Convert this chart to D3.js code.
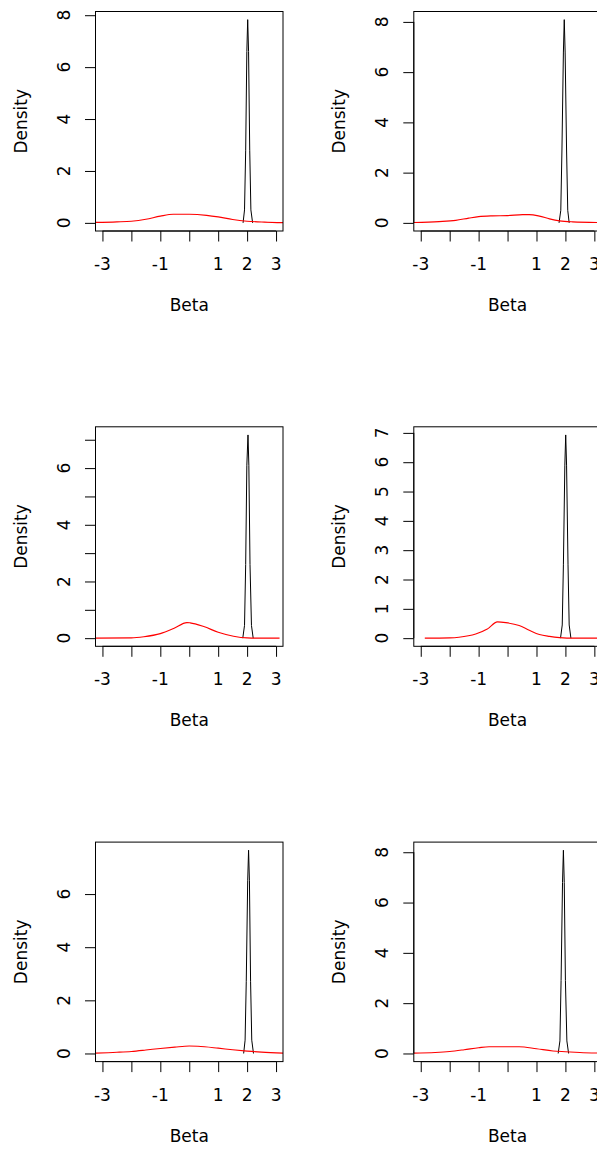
<!DOCTYPE html>
<html>
<head>
<meta charset="utf-8">
<script src="https://cdn.jsdelivr.net/npm/d3@7"></script>
<style>
  body { margin: 0; background: #fff; }
  svg { display: block; }
  text { font-family: "DejaVu Sans", sans-serif; fill: #000; }
</style>
</head>
<body>
<svg id="chart" width="597" height="1149"></svg>
<script>
// x axis, shared by every panel
const xLimits = [-3, 3];
const xTicks = [-3, -2, -1, 0, 1, 2, 3];
const xTickLabels = [-3, -1, 1, 2, 3];

// wide (red) density curves, [beta, density]
const wide1 = [[-3.24,0.02],[-2.5,0.04],[-2,0.065],[-1.5,0.14],[-1,0.26],[-0.55,0.33],[0,0.33],[0.6,0.29],[1,0.23],[1.5,0.13],[2,0.065],[2.6,0.03],[3.24,0.01]];
const wide2 = [[-3.24,0.013],[-2.37,0.05],[-1.79,0.1],[-1.34,0.19],[-1,0.25],[-0.52,0.28],[0,0.29],[0.52,0.33],[0.75,0.33],[1.1,0.27],[1.45,0.16],[1.8,0.08],[2.25,0.04],[3.24,0.012]];
const wide3 = [[-3.24,0],[-2,0.01],[-1.57,0.05],[-1,0.16],[-0.54,0.34],[-0.08,0.55],[0.03,0.54],[0.5,0.41],[1,0.21],[1.53,0.07],[2,0.01],[2.5,0],[3.12,0]];
const wide4 = [[-2.86,0],[-2,0.01],[-1.68,0.03],[-1.1,0.14],[-0.7,0.31],[-0.35,0.556],[-0.06,0.53],[0.4,0.43],[0.75,0.27],[1.1,0.125],[1.45,0.06],[1.8,0.02],[2.3,0],[3.24,0]];
const wide5 = [[-3.24,0.013],[-2.5,0.045],[-2,0.076],[-1.5,0.13],[-1,0.19],[-0.5,0.24],[0,0.28],[0.3,0.27],[1,0.2],[1.5,0.14],[2,0.09],[2.5,0.05],[3.24,0.013]];
const wide6 = [[-3.24,0.013],[-2.5,0.04],[-2,0.08],[-1.5,0.15],[-1,0.23],[-0.64,0.27],[0,0.27],[0.4,0.27],[1,0.19],[1.57,0.1],[2,0.07],[2.5,0.04],[3.24,0.013]];

// narrow (black) density spikes, [beta, density]
const spike1 = [[1.86,0],[1.91,0.5],[1.95,2.8],[1.99,6.6],[2.02,7.83],[2.05,6.6],[2.09,2.8],[2.13,0.5],[2.19,0]];
const spike2 = [[1.78,0],[1.84,0.5],[1.88,2.9],[1.93,6.8],[1.96,8.09],[1.99,6.8],[2.04,2.9],[2.08,0.5],[2.13,0]];
const spike3 = [[1.85,0],[1.91,0.45],[1.95,2.6],[1.99,6.1],[2.03,7.17],[2.06,6.1],[2.1,2.6],[2.15,0.45],[2.21,0]];
const spike4 = [[1.83,0],[1.89,0.45],[1.93,2.5],[1.98,5.9],[2.01,6.93],[2.04,5.9],[2.09,2.5],[2.13,0.45],[2.19,0]];
const spike5 = [[1.88,0],[1.93,0.5],[1.97,2.7],[2.02,6.5],[2.05,7.65],[2.08,6.5],[2.12,2.7],[2.16,0.5],[2.22,0]];
const spike6 = [[1.75,0],[1.81,0.5],[1.85,2.9],[1.9,6.8],[1.93,8.08],[1.96,6.8],[2.0,2.9],[2.05,0.5],[2.11,0]];

// y ticks and which of them carry a label
const yTicks1 = [0, 2, 4, 6, 8], yLabels1 = [0, 2, 4, 6, 8];
const yTicks2 = [0, 2, 4, 6, 8], yLabels2 = [0, 2, 4, 6, 8];
const yTicks3 = [0, 1, 2, 3, 4, 5, 6, 7], yLabels3 = [0, 2, 4, 6];
const yTicks4 = [0, 1, 2, 3, 4, 5, 6, 7], yLabels4 = [0, 1, 2, 3, 4, 5, 6, 7];
const yTicks5 = [0, 2, 4, 6], yLabels5 = [0, 2, 4, 6];
const yTicks6 = [0, 2, 4, 6, 8], yLabels6 = [0, 2, 4, 6, 8];

const xTitle = "Beta";
const yTitle = "Density";

const panels = [
  { wide: wide1, spike: spike1, yTicks: yTicks1, yLabels: yLabels1 },
  { wide: wide2, spike: spike2, yTicks: yTicks2, yLabels: yLabels2 },
  { wide: wide3, spike: spike3, yTicks: yTicks3, yLabels: yLabels3 },
  { wide: wide4, spike: spike4, yTicks: yTicks4, yLabels: yLabels4 },
  { wide: wide5, spike: spike5, yTicks: yTicks5, yLabels: yLabels5 },
  { wide: wide6, spike: spike6, yTicks: yTicks6, yLabels: yLabels6 }
];

const svg = d3.select("#chart");

// panel box geometry
const box = { left: 95.5, top: 11.5, width: 187.5, height: 219.5 };
const colStep = 318.3, rowStep = 415.3;
const tickLen = 10.5;
const fontSize = 17;

// R style 4% padding on each side
const pad = ([a, b]) => { const w = b - a; return [a - 0.04 * w, b + 0.04 * w]; };

panels.forEach((p, i) => {
  const col = i % 2, row = Math.floor(i / 2);
  const g = svg.append("g")
    .attr("transform", `translate(${box.left + col * colStep}, ${box.top + row * rowStep})`);

  const x = d3.scaleLinear().domain(pad(xLimits)).range([0, box.width]);
  const yMax = d3.max(p.spike, d => d[1]);
  const y = d3.scaleLinear().domain(pad([0, yMax])).range([box.height, 0]);

  const clipId = "clip" + i;
  g.append("clipPath").attr("id", clipId)
    .append("rect").attr("width", box.width).attr("height", box.height);

  const line = d3.line().x(d => x(d[0])).y(d => y(d[1]));

  g.append("path")
    .datum(p.spike)
    .attr("clip-path", `url(#${clipId})`)
    .attr("d", line)
    .attr("fill", "none")
    .attr("stroke", "#000")
    .attr("stroke-width", 1);

  g.append("path")
    .datum(p.wide)
    .attr("clip-path", `url(#${clipId})`)
    .attr("d", line.curve(d3.curveMonotoneX))
    .attr("fill", "none")
    .attr("stroke", "#ff0000")
    .attr("stroke-width", 1.1);

  // x axis ticks below the box
  const xAxis = g.append("g").attr("transform", `translate(0, ${box.height})`);
  xAxis.call(d3.axisBottom(x).tickValues(xTicks).tickSize(tickLen).tickSizeOuter(0).tickFormat(""));
  xAxis.select(".domain").attr("d", `M${x(xTicks[0])},0H${x(xTicks[xTicks.length - 1])}`);
  xAxis.selectAll("line").attr("stroke", "#000");
  g.selectAll(".xlab")
    .data(xTickLabels)
    .join("text")
    .attr("class", "xlab")
    .attr("x", d => x(d))
    .attr("y", box.height + 39)
    .attr("text-anchor", "middle")
    .style("font-size", fontSize + "px")
    .text(d => d);

  // y axis ticks left of the box
  const yAxis = g.append("g");
  yAxis.call(d3.axisLeft(y).tickValues(p.yTicks).tickSize(tickLen).tickSizeOuter(0).tickFormat(""));
  yAxis.select(".domain").attr("d", `M0,${y(p.yTicks[0])}V${y(p.yTicks[p.yTicks.length - 1])}`);
  yAxis.selectAll("line").attr("stroke", "#000");
  g.selectAll(".ylab")
    .data(p.yLabels)
    .join("text")
    .attr("class", "ylab")
    .attr("transform", d => `translate(-26, ${y(d)}) rotate(-90)`)
    .attr("text-anchor", "middle")
    .style("font-size", fontSize + "px")
    .text(d => d);

  // frame
  g.append("rect")
    .attr("width", box.width)
    .attr("height", box.height)
    .attr("fill", "none")
    .attr("stroke", "#000")
    .attr("stroke-width", 1);

  // axis titles
  g.append("text")
    .attr("x", box.width / 2)
    .attr("y", box.height + 80)
    .attr("text-anchor", "middle")
    .style("font-size", fontSize + "px")
    .text(xTitle);

  g.append("text")
    .attr("transform", `translate(-69, ${box.height / 2}) rotate(-90)`)
    .attr("text-anchor", "middle")
    .style("font-size", fontSize + "px")
    .text(yTitle);
});
</script>
</body>
</html>
